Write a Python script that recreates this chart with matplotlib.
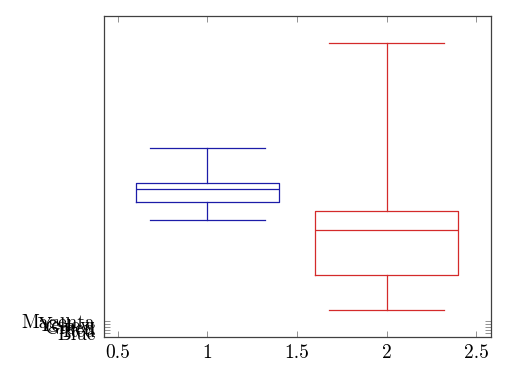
#!/usr/bin/env python3
"""Two box plots in the pgfplots style, saved to out.png."""
import matplotlib
matplotlib.use("Agg")
import matplotlib.pyplot as plt  # noqa: E402

plt.rcParams["font.family"] = ["cmr10", "DejaVu Serif"]
plt.rcParams["axes.formatter.use_mathtext"] = True
plt.rcParams["font.size"] = 14

# box statistics
positions = [1, 2]
colors = ["#1c1ca8", "#d42a2a"]
whislo = [38.7, 8.7]
q1 = [44.6, 20.3]
med = [49.2, 35.3]
q3 = [51.2, 41.8]
whishi = [62.6, 97.7]

ytick_pos = [1, 2, 3, 4, 5]
ytick_labels = ["Blue", "Red", "Green", "Yellow", "Magenta"]
xticks = [0.5, 1, 1.5, 2, 2.5]

fig = plt.figure(figsize=(5.12, 3.8), dpi=100)
ax = fig.add_axes([0.203, 0.113, 0.756, 0.845])

for i, p in enumerate(positions):
    stats = [dict(whislo=whislo[i], q1=q1[i], med=med[i], q3=q3[i],
                  whishi=whishi[i], fliers=[])]
    c = colors[i]
    ax.bxp(stats, positions=[p], widths=0.8, capwidths=0.64,
           showfliers=False, manage_ticks=False,
           boxprops=dict(color=c, lw=0.9),
           medianprops=dict(color=c, lw=0.9),
           whiskerprops=dict(color=c, lw=0.9),
           capprops=dict(color=c, lw=0.9))

ax.set_xlim(0.422, 2.583)
ax.set_ylim(-0.3, 106.7)
ax.set_xticks(xticks)
ax.set_xticklabels(["0.5", "1", "1.5", "2", "2.5"])
ax.set_yticks(ytick_pos)
ax.set_yticklabels(ytick_labels)

ax.tick_params(direction="in", length=4, width=0.6, color="#808080",
               top=True, right=True, labelcolor="black", pad=5)
ax.tick_params(axis="y", pad=6)
for s in ax.spines.values():
    s.set_color("#404040")
    s.set_linewidth(0.9)

fig.savefig("out.png", dpi=100)
